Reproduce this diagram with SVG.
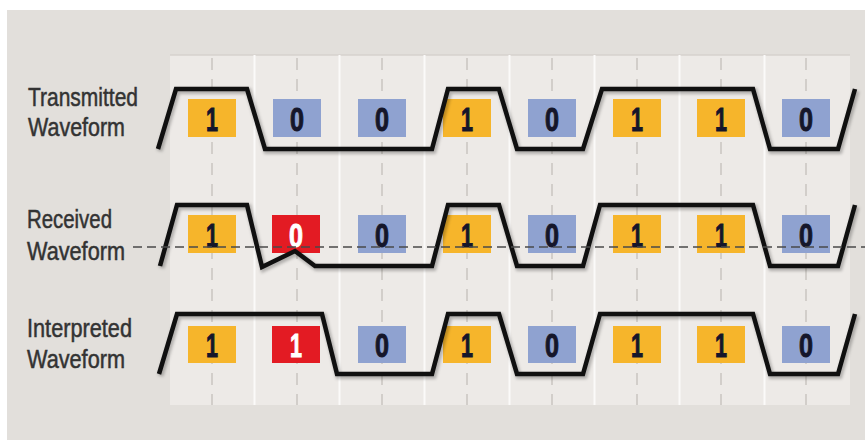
<svg xmlns="http://www.w3.org/2000/svg" width="865" height="446" viewBox="0 0 865 446">
  <defs>
    <style>
      .lbl { font-family: "Liberation Sans", Arial, sans-serif; font-size: 25px; fill: #333333; stroke: #333333; stroke-width: 0.5px; }
      .dig { font-family: "Liberation Sans", Arial, sans-serif; font-size: 34px; font-weight: bold; fill: #15162a; stroke: #15162a; stroke-width: 1px; text-anchor: middle; }
      .dig.w { fill: #ffffff; stroke: #ffffff; }
      .y { fill: #f6b52b; }
      .b { fill: #8fa2d0; }
      .r { fill: #e31b23; }
      .wave { fill: none; stroke: #101010; stroke-width: 4.5; stroke-linejoin: miter; }
      .shadow { fill: none; stroke: #000; stroke-opacity: 0.25; stroke-width: 6; }
      .cdash { stroke: #c9c5c1; stroke-width: 1.5; stroke-dasharray: 12 9; }
      .cell { stroke: #fbfaf9; stroke-width: 2; }
    </style>
    <filter id="blur" x="-5%" y="-20%" width="110%" height="140%">
      <feGaussianBlur stdDeviation="1.5"/>
    </filter>
  </defs>

  <!-- background -->
  <rect x="0" y="0" width="865" height="446" fill="#ffffff"/>
  <rect x="7" y="10" width="858" height="430" fill="#e2dfdb"/>

  <!-- bit-cell panel -->
  <g id="panel">
    <rect x="170" y="55" width="680" height="350" fill="#edeae7"/>
    <line x1="170" y1="55" x2="850" y2="55" stroke="#d6d2ce" stroke-width="1.5"/>
    <g class="cell">
      <line x1="254.5" y1="55" x2="254.5" y2="405"/>
      <line x1="339.5" y1="55" x2="339.5" y2="405"/>
      <line x1="424.5" y1="55" x2="424.5" y2="405"/>
      <line x1="509.5" y1="55" x2="509.5" y2="405"/>
      <line x1="594.5" y1="55" x2="594.5" y2="405"/>
      <line x1="679.5" y1="55" x2="679.5" y2="405"/>
      <line x1="764.5" y1="55" x2="764.5" y2="405"/>
    </g>
    <g class="cdash">
      <line x1="212" y1="58" x2="212" y2="405"/>
      <line x1="297" y1="58" x2="297" y2="405"/>
      <line x1="382" y1="58" x2="382" y2="405"/>
      <line x1="467" y1="58" x2="467" y2="405"/>
      <line x1="552" y1="58" x2="552" y2="405"/>
      <line x1="637" y1="58" x2="637" y2="405"/>
      <line x1="721" y1="58" x2="721" y2="405"/>
      <line x1="806" y1="58" x2="806" y2="405"/>
    </g>
  </g>

  <!-- row labels -->
  <g id="label-transmitted">
    <text class="lbl" x="28" y="106" textLength="110" lengthAdjust="spacingAndGlyphs">Transmitted</text>
    <text class="lbl" x="28" y="136" textLength="97" lengthAdjust="spacingAndGlyphs">Waveform</text>
  </g>
  <g id="label-received">
    <text class="lbl" x="27" y="228" textLength="85" lengthAdjust="spacingAndGlyphs">Received</text>
    <text class="lbl" x="27" y="260" textLength="98" lengthAdjust="spacingAndGlyphs">Waveform</text>
  </g>
  <g id="label-interpreted">
    <text class="lbl" x="27" y="337" textLength="105" lengthAdjust="spacingAndGlyphs">Interpreted</text>
    <text class="lbl" x="27" y="368" textLength="98" lengthAdjust="spacingAndGlyphs">Waveform</text>
  </g>

  <!-- bit boxes: transmitted -->
  <g id="bits-transmitted">
    <rect class="y" x="188" y="99" width="48" height="38"/>
    <rect class="b" x="273" y="99" width="48" height="38"/>
    <rect class="b" x="358" y="99" width="48" height="38"/>
    <rect class="y" x="443" y="99" width="48" height="38"/>
    <rect class="b" x="528" y="99" width="48" height="38"/>
    <rect class="y" x="613" y="99" width="48" height="38"/>
    <rect class="y" x="697" y="99" width="48" height="38"/>
    <rect class="b" x="782" y="99" width="48" height="38"/>
  </g>
  <!-- bit boxes: received -->
  <g id="bits-received">
    <rect class="y" x="188" y="215" width="48" height="38"/>
    <rect class="r" x="272" y="215" width="48" height="38"/>
    <rect class="b" x="358" y="215" width="48" height="38"/>
    <rect class="y" x="443" y="215" width="48" height="38"/>
    <rect class="b" x="528" y="215" width="48" height="38"/>
    <rect class="y" x="613" y="215" width="48" height="38"/>
    <rect class="y" x="697" y="215" width="48" height="38"/>
    <rect class="b" x="782" y="215" width="48" height="38"/>
  </g>
  <!-- bit boxes: interpreted -->
  <g id="bits-interpreted">
    <rect class="y" x="188" y="326" width="48" height="37"/>
    <rect class="r" x="272" y="326" width="48" height="37"/>
    <rect class="b" x="358" y="326" width="48" height="37"/>
    <rect class="y" x="443" y="326" width="48" height="37"/>
    <rect class="b" x="528" y="326" width="48" height="37"/>
    <rect class="y" x="613" y="326" width="48" height="37"/>
    <rect class="y" x="697" y="326" width="48" height="37"/>
    <rect class="b" x="782" y="326" width="48" height="37"/>
  </g>

  <!-- waveforms -->
  <g id="waveforms">
    <g filter="url(#blur)" class="shadow" transform="translate(1.5,2)">
      <path d="M158,149 L176,89 L247,89 L265,149 L432,149 L448,89 L499,89 L517,149 L583,149 L602,89 L753,89 L770,149 L838,149 L855,89"/>
      <path d="M160,266 L177,205 L247,205 L262,267 L295,251 L315,266 L432,266 L448,205 L499,205 L517,266 L583,266 L600,205 L753,205 L770,266 L838,266 L855,205"/>
      <path d="M159,374 L177,314 L322,314 L337,374 L432,374 L448,314 L499,314 L517,374 L583,374 L600,314 L753,314 L770,374 L838,374 L855,314"/>
    </g>
    <path id="wave-transmitted" class="wave" d="M158,149 L176,89 L247,89 L265,149 L432,149 L448,89 L499,89 L517,149 L583,149 L602,89 L753,89 L770,149 L838,149 L855,89"/>
    <path id="wave-received" class="wave" d="M160,266 L177,205 L247,205 L262,267 L295,251 L315,266 L432,266 L448,205 L499,205 L517,266 L583,266 L600,205 L753,205 L770,266 L838,266 L855,205"/>
    <path id="wave-interpreted" class="wave" d="M159,374 L177,314 L322,314 L337,374 L432,374 L448,314 L499,314 L517,374 L583,374 L600,314 L753,314 L770,374 L838,374 L855,314"/>
  </g>

  <!-- digits -->
  <g id="digits-transmitted">
    <text class="dig" x="212" y="131" textLength="12" lengthAdjust="spacingAndGlyphs">1</text>
    <text class="dig" x="297" y="131" textLength="14" lengthAdjust="spacingAndGlyphs">0</text>
    <text class="dig" x="382" y="131" textLength="14" lengthAdjust="spacingAndGlyphs">0</text>
    <text class="dig" x="467" y="131" textLength="12" lengthAdjust="spacingAndGlyphs">1</text>
    <text class="dig" x="552" y="131" textLength="14" lengthAdjust="spacingAndGlyphs">0</text>
    <text class="dig" x="637" y="131" textLength="12" lengthAdjust="spacingAndGlyphs">1</text>
    <text class="dig" x="721" y="131" textLength="12" lengthAdjust="spacingAndGlyphs">1</text>
    <text class="dig" x="806" y="131" textLength="14" lengthAdjust="spacingAndGlyphs">0</text>
  </g>
  <g id="digits-received">
    <text class="dig" x="212" y="247" textLength="12" lengthAdjust="spacingAndGlyphs">1</text>
    <text class="dig w" x="296" y="247" textLength="14" lengthAdjust="spacingAndGlyphs">0</text>
    <text class="dig" x="382" y="247" textLength="14" lengthAdjust="spacingAndGlyphs">0</text>
    <text class="dig" x="467" y="247" textLength="12" lengthAdjust="spacingAndGlyphs">1</text>
    <text class="dig" x="552" y="247" textLength="14" lengthAdjust="spacingAndGlyphs">0</text>
    <text class="dig" x="637" y="247" textLength="12" lengthAdjust="spacingAndGlyphs">1</text>
    <text class="dig" x="721" y="247" textLength="12" lengthAdjust="spacingAndGlyphs">1</text>
    <text class="dig" x="806" y="247" textLength="14" lengthAdjust="spacingAndGlyphs">0</text>
  </g>
  <g id="digits-interpreted">
    <text class="dig" x="212" y="357" textLength="12" lengthAdjust="spacingAndGlyphs">1</text>
    <text class="dig w" x="296" y="357" textLength="12" lengthAdjust="spacingAndGlyphs">1</text>
    <text class="dig" x="382" y="357" textLength="14" lengthAdjust="spacingAndGlyphs">0</text>
    <text class="dig" x="467" y="357" textLength="12" lengthAdjust="spacingAndGlyphs">1</text>
    <text class="dig" x="552" y="357" textLength="14" lengthAdjust="spacingAndGlyphs">0</text>
    <text class="dig" x="637" y="357" textLength="12" lengthAdjust="spacingAndGlyphs">1</text>
    <text class="dig" x="721" y="357" textLength="12" lengthAdjust="spacingAndGlyphs">1</text>
    <text class="dig" x="806" y="357" textLength="14" lengthAdjust="spacingAndGlyphs">0</text>
  </g>

  <!-- received threshold dashed line (drawn over boxes and digits) -->
  <line id="threshold" x1="133" y1="247" x2="865" y2="247" stroke="#4a4a4a" stroke-width="1.6" stroke-dasharray="9 5"/>
</svg>
